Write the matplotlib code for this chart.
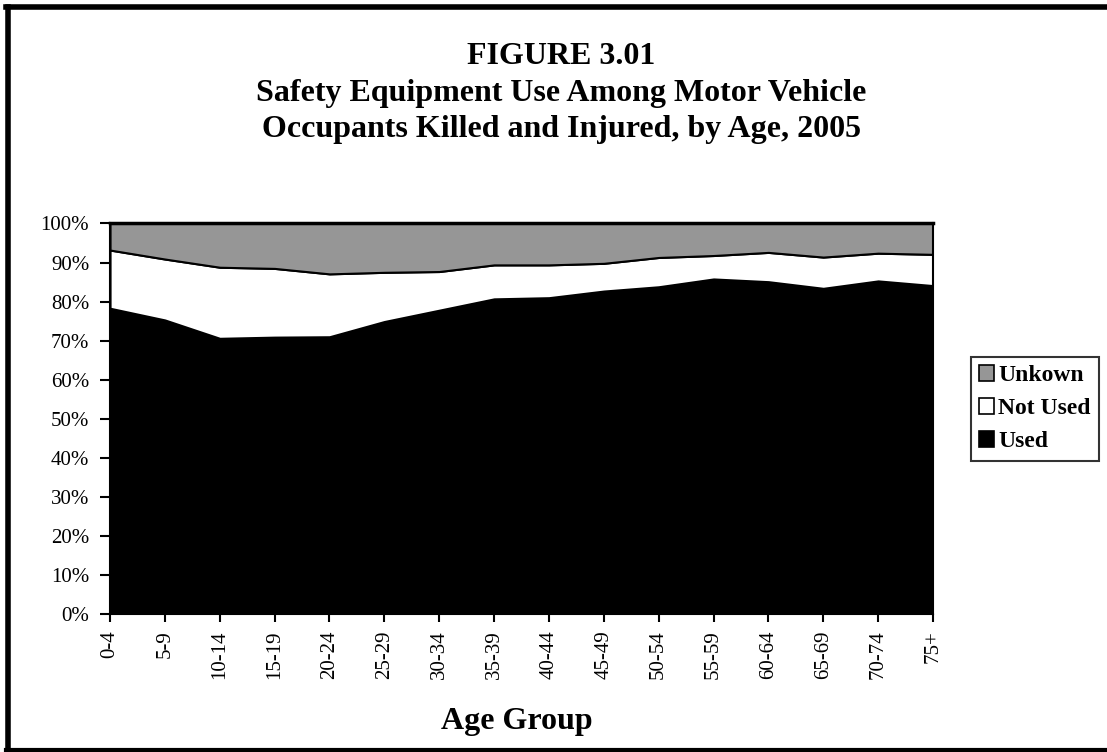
import matplotlib
matplotlib.use("Agg")
import matplotlib.pyplot as plt
from matplotlib.patches import Patch
from matplotlib.lines import Line2D

# data (cumulative shares, %)
age_groups = ["0-4", "5-9", "10-14", "15-19", "20-24", "25-29", "30-34", "35-39",
              "40-44", "45-49", "50-54", "55-59", "60-64", "65-69", "70-74", "75+"]
used = [78.3, 75.3, 70.6, 70.9, 71.0, 74.9, 77.8, 80.7,
        81.0, 82.7, 83.8, 85.8, 85.1, 83.4, 85.3, 84.1]
used_or_not = [93.2, 90.9, 88.8, 88.5, 87.1, 87.5, 87.7, 89.4,
               89.4, 89.8, 91.3, 91.8, 92.6, 91.4, 92.4, 92.1]
not_used = [b - a for a, b in zip(used, used_or_not)]
unknown = [100 - b for b in used_or_not]

plt.rcParams['font.family'] = ['Liberation Serif', 'DejaVu Serif']

fig = plt.figure(figsize=(11.07, 7.52), dpi=100)
ax = fig.add_axes([0.0994, 0.1835, 0.7434, 0.5193])

x = range(len(age_groups))
ax.stackplot(x, used, not_used, unknown,
             colors=["black", "white", "#969696"],
             edgecolor="black", linewidth=1.5)

ax.set_xlim(0, len(age_groups) - 1)
ax.set_ylim(0, 100)
ax.set_yticks(range(0, 101, 10))
ax.set_yticklabels([f"{v}%" for v in range(0, 101, 10)], fontsize=15)
ax.set_xticks(list(x))
ax.set_xticklabels(age_groups, rotation=90, fontsize=15)
ax.tick_params(axis="y", direction="out", length=7, width=1.5, pad=8)
ax.tick_params(axis="x", direction="out", length=6, width=1.5, pad=6)
for s in ax.spines.values():
    s.set_linewidth(1.5)
ax.spines['top'].set_linewidth(2.5)

fig.text(0.467, 1 - 721 / 752, "Age Group", ha="center", va="center",
         fontsize=23, fontweight="bold")

fig.text(0.507, 1 - 57 / 752, "FIGURE 3.01", ha="center", va="center",
         fontsize=23, fontweight="bold")
fig.text(0.507, 1 - 93 / 752, "Safety Equipment Use Among Motor Vehicle", ha="center",
         va="center", fontsize=23, fontweight="bold")
fig.text(0.507, 1 - 129 / 752, "Occupants Killed and Injured, by Age, 2005", ha="center",
         va="center", fontsize=23, fontweight="bold")

handles = [Patch(facecolor="#969696", edgecolor="black", linewidth=1.2),
           Patch(facecolor="white", edgecolor="black", linewidth=1.2),
           Patch(facecolor="black", edgecolor="black", linewidth=1.2)]
leg = fig.legend(handles, ["Unkown", "Not Used", "Used"],
                 loc="upper left", bbox_to_anchor=(0.877, 1 - 357 / 752),
                 prop={"size": 17, "weight": "bold"},
                 handlelength=0.65, handleheight=0.65, handletextpad=0.15,
                 labelspacing=0.5, borderpad=0.35, borderaxespad=0,
                 fancybox=False, frameon=True)
leg.get_frame().set_edgecolor("black")
leg.get_frame().set_linewidth(1.5)

# outer border (left, top, bottom)
fig.add_artist(Line2D([0.0075, 0.0075], [0.003, 0.991], color="black", lw=4,
                      transform=fig.transFigure))
fig.add_artist(Line2D([0.0055, 1.0], [0.991, 0.991], color="black", lw=4,
                      transform=fig.transFigure))
fig.add_artist(Line2D([0.0055, 1.0], [0.003, 0.003], color="black", lw=3,
                      transform=fig.transFigure))

fig.savefig("out.png", dpi=100)
